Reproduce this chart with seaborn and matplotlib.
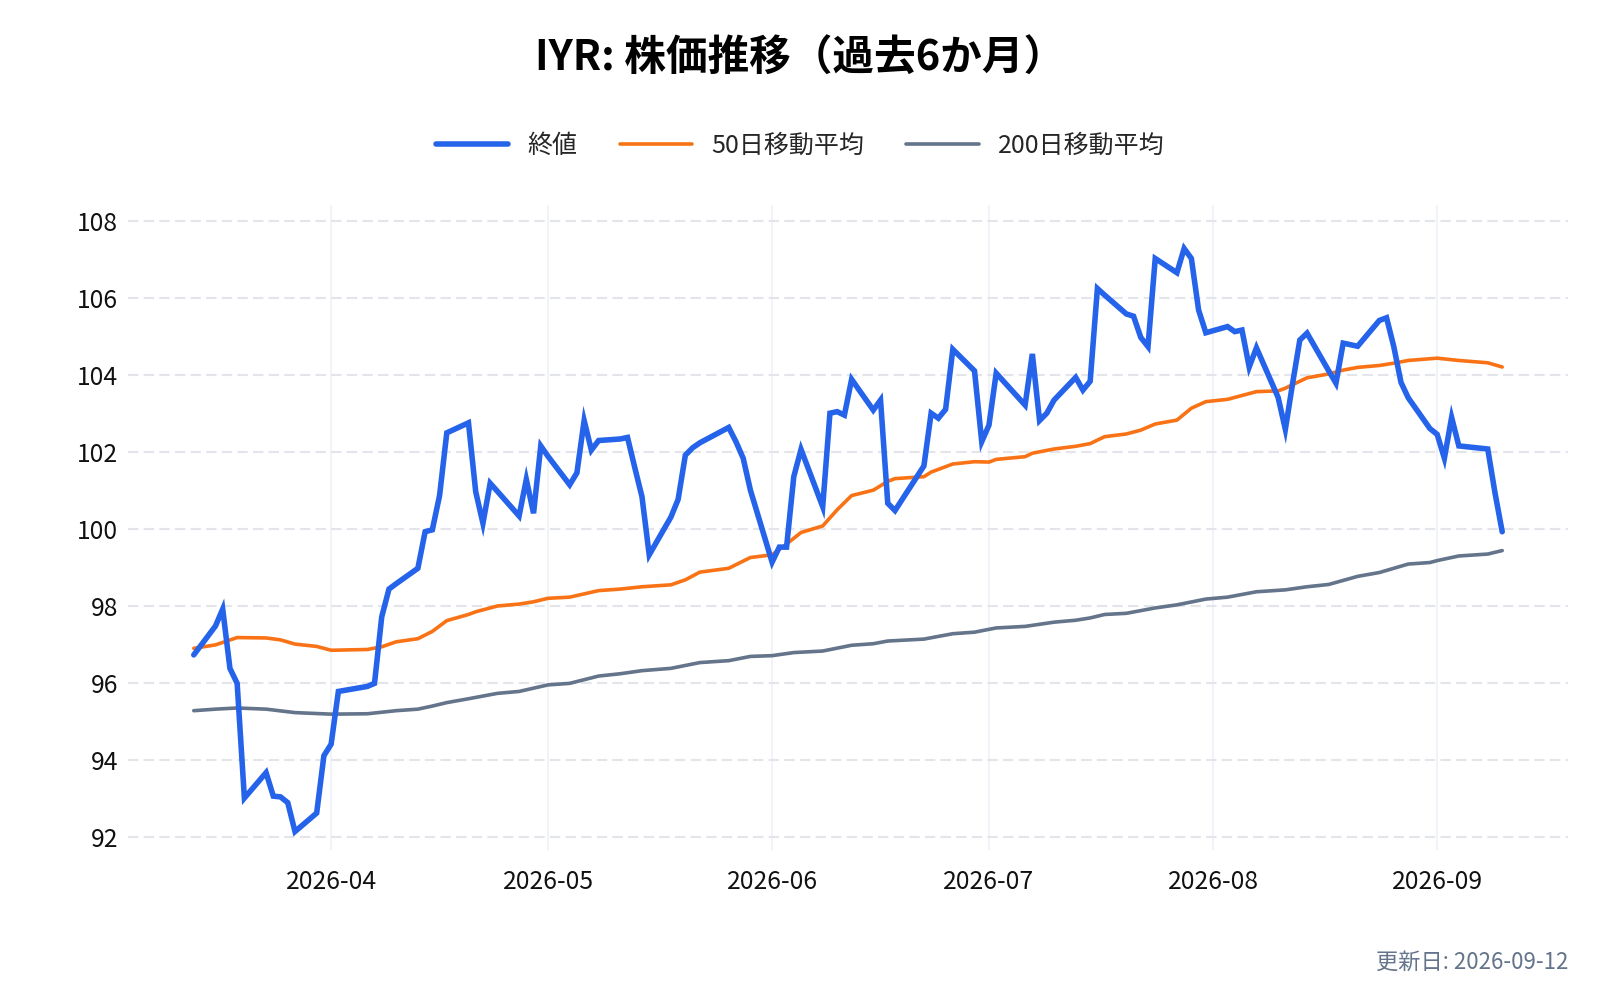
import matplotlib
matplotlib.use("Agg")
import matplotlib.pyplot as plt
import matplotlib.dates as mdates
from matplotlib.lines import Line2D
import pandas as pd
import seaborn as sns

# ---------------- data ----------------
mar_days = [13, 16, 17, 18, 19, 20, 23, 24, 25, 26, 27, 30, 31]
apr_days = [1, 2, 6, 7, 8, 9, 10, 13, 14, 15, 16, 17, 20, 21, 22, 23, 24, 27, 28, 29, 30]
may_days = [1, 4, 5, 6, 7, 8, 11, 12, 13, 14, 15, 18, 19, 20, 21, 22, 26, 27, 28, 29]
jun_days = [1, 2, 3, 4, 5, 8, 9, 10, 11, 12, 15, 16, 17, 18, 22, 23, 24, 25, 26, 29, 30]
jul_days = [1, 2, 6, 7, 8, 9, 10, 13, 14, 15, 16, 17, 20, 21, 22, 23, 24, 27, 28, 29, 30, 31]
aug_days = [3, 4, 5, 6, 7, 10, 11, 12, 13, 14, 17, 18, 19, 20, 21, 24, 25, 26, 27, 28, 31]
sep_days = [1, 2, 3, 4, 8, 9, 10]

mar_close = [96.72, 97.47, 97.91, 96.37, 95.98, 93.00, 93.66, 93.05, 93.03, 92.88, 92.13, 92.61, 94.10]
apr_close = [94.40, 95.77, 95.90, 95.98, 97.71, 98.43, 98.57, 98.97, 99.92, 99.97, 100.86, 102.49,
             102.75, 100.96, 100.14, 101.18, 100.97, 100.33, 101.28, 100.40, 102.15]
may_close = [101.88, 101.14, 101.45, 102.81, 102.04, 102.29, 102.33, 102.37, 101.59, 100.83, 99.32,
             100.30, 100.76, 101.91, 102.10, 102.23, 102.63, 102.26, 101.83, 101.00]
jun_close = [99.13, 99.52, 99.52, 101.35, 102.06, 100.57, 103.00, 103.04, 102.95, 103.88, 103.08,
             103.34, 100.66, 100.47, 101.63, 103.00, 102.87, 103.10, 104.66, 104.10, 102.26]
jul_close = [102.69, 104.04, 103.21, 104.54, 102.81, 103.00, 103.34, 103.93, 103.60, 103.83, 106.24,
             106.07, 105.58, 105.52, 104.97, 104.73, 107.02, 106.65, 107.28, 107.02, 105.68, 105.09]
aug_close = [105.25, 105.12, 105.16, 104.20, 104.70, 103.41, 102.58, 103.77, 104.90, 105.08, 104.10,
             103.78, 104.82, 104.78, 104.74, 105.41, 105.48, 104.73, 103.80, 103.40, 102.60]
sep_close = [102.45, 101.83, 102.89, 102.15, 102.07, 100.93, 99.92]

ma50_dates = ["03-13", "03-16", "03-19", "03-23", "03-25", "03-27", "03-30", "04-01", "04-06", "04-08",
              "04-10", "04-13", "04-15", "04-17", "04-20", "04-21", "04-24", "04-27", "04-29", "05-01",
              "05-04", "05-08", "05-11", "05-14", "05-18", "05-20", "05-22", "05-26", "05-29", "06-01",
              "06-03", "06-05", "06-08", "06-10", "06-12", "06-15", "06-17", "06-18", "06-22", "06-23",
              "06-26", "06-29", "07-01", "07-02", "07-06", "07-07", "07-10", "07-13", "07-15", "07-17",
              "07-20", "07-22", "07-24", "07-27", "07-29", "07-31", "08-03", "08-05", "08-07", "08-10",
              "08-11", "08-14", "08-17", "08-19", "08-21", "08-24", "08-26", "08-28", "09-01", "09-04",
              "09-08", "09-10"]
ma50_vals = [96.89, 96.98, 97.17, 97.16, 97.11, 97.00, 96.94, 96.84, 96.86, 96.93,
             97.06, 97.14, 97.33, 97.61, 97.77, 97.84, 97.99, 98.04, 98.10, 98.19,
             98.22, 98.39, 98.43, 98.49, 98.54, 98.67, 98.87, 98.97, 99.25, 99.32,
             99.60, 99.90, 100.07, 100.49, 100.86, 101.00, 101.23, 101.30, 101.35, 101.47,
             101.68, 101.74, 101.73, 101.80, 101.87, 101.96, 102.07, 102.14, 102.21, 102.39,
             102.46, 102.56, 102.72, 102.82, 103.13, 103.30, 103.36, 103.46, 103.56, 103.58,
             103.65, 103.92, 104.02, 104.12, 104.19, 104.24, 104.30, 104.37, 104.43, 104.37,
             104.31, 104.20]

ma200_dates = ["03-13", "03-16", "03-19", "03-23", "03-27", "04-01", "04-06", "04-10", "04-13", "04-15",
               "04-17", "04-20", "04-24", "04-27", "05-01", "05-04", "05-08", "05-11", "05-14", "05-18",
               "05-22", "05-26", "05-29", "06-01", "06-04", "06-08", "06-12", "06-15", "06-17", "06-22",
               "06-26", "06-29", "07-02", "07-06", "07-10", "07-13", "07-15", "07-17", "07-20", "07-24",
               "07-27", "07-31", "08-03", "08-07", "08-11", "08-14", "08-17", "08-21", "08-24", "08-28",
               "08-31", "09-01", "09-04", "09-08", "09-10"]
ma200_vals = [95.27, 95.31, 95.34, 95.31, 95.22, 95.18, 95.19, 95.27, 95.31, 95.39,
              95.48, 95.58, 95.72, 95.77, 95.94, 95.98, 96.17, 96.23, 96.31, 96.37,
              96.52, 96.57, 96.68, 96.70, 96.78, 96.82, 96.97, 97.01, 97.08, 97.13,
              97.27, 97.31, 97.42, 97.46, 97.57, 97.62, 97.68, 97.77, 97.80, 97.94,
              98.02, 98.17, 98.22, 98.36, 98.41, 98.49, 98.55, 98.76, 98.86, 99.08,
              99.12, 99.17, 99.29, 99.34, 99.43]

y_ticks = [92, 94, 96, 98, 100, 102, 104, 106, 108]
title_text = "IYR: 株価推移（過去6か月）"
legend_labels = ["終値", "50日移動平均", "200日移動平均"]
footer_text = "更新日: 2026-09-12"

# ---------------- frames ----------------
month_days = [(3, mar_days), (4, apr_days), (5, may_days), (6, jun_days),
              (7, jul_days), (8, aug_days), (9, sep_days)]
close_dates = pd.to_datetime([f"2026-{m:02d}-{d:02d}" for m, days in month_days for d in days])
close_vals = mar_close + apr_close + may_close + jun_close + jul_close + aug_close + sep_close
df_close = pd.DataFrame({"date": close_dates, "value": close_vals})
df_ma50 = pd.DataFrame({"date": pd.to_datetime(["2026-" + s for s in ma50_dates]), "value": ma50_vals})
df_ma200 = pd.DataFrame({"date": pd.to_datetime(["2026-" + s for s in ma200_dates]), "value": ma200_vals})

# ---------------- style ----------------
sns.set_theme(style="white")
plt.rcParams["font.family"] = ["Noto Sans CJK JP", "DejaVu Sans"]

c_blue = "#2563eb"
c_orange = "#f97316"
c_gray = "#64748b"

fig = plt.figure(figsize=(16, 10), dpi=100)
ax = fig.add_axes([0.08, 0.15, 0.90, 0.645])

sns.lineplot(data=df_ma200, x="date", y="value", ax=ax, color=c_gray, linewidth=2.6, zorder=3)
sns.lineplot(data=df_ma50, x="date", y="value", ax=ax, color=c_orange, linewidth=2.6, zorder=4)
sns.lineplot(data=df_close, x="date", y="value", ax=ax, color=c_blue, linewidth=4.0, zorder=5,
             solid_joinstyle="miter")

apr1 = mdates.date2num(pd.Timestamp("2026-04-01"))
ax.set_xlim(apr1 - 28.1, apr1 + 171.1)
ax.set_ylim(91.65, 108.41)
ax.set_yticks(y_ticks)
ax.xaxis.set_major_locator(mdates.MonthLocator())
ax.xaxis.set_major_formatter(mdates.DateFormatter("%Y-%m"))

ax.set_xlabel("")
ax.set_ylabel("")
for s in ax.spines.values():
    s.set_visible(False)
ax.tick_params(axis="both", length=0, labelsize=17.8, colors="#111111")
ax.tick_params(axis="x", pad=14)
ax.tick_params(axis="y", pad=7)

ax.yaxis.grid(True, color="#e3e5ea", linestyle=(0, (5, 2.5)), linewidth=1.5)
ax.xaxis.grid(True, color="#eef1f6", linestyle="-", linewidth=1.2)
ax.set_axisbelow(True)

if ax.get_legend() is not None:
    ax.get_legend().remove()

handles = [Line2D([0], [0], color=c_blue, linewidth=4.0),
           Line2D([0], [0], color=c_orange, linewidth=2.6),
           Line2D([0], [0], color=c_gray, linewidth=2.6)]
fig.legend(handles, legend_labels, loc="center", bbox_to_anchor=(0.5, 0.854), ncol=3,
           frameon=False, fontsize=18, handlelength=2.9, handletextpad=0.75, columnspacing=1.7)

fig.text(0.5, 0.941, title_text, ha="center", va="center", fontsize=30, fontweight="bold",
         color="#000000")
fig.text(0.98, 0.038, footer_text, ha="right", va="center", fontsize=16, color=c_gray)

fig.savefig("out.png", dpi=100)
